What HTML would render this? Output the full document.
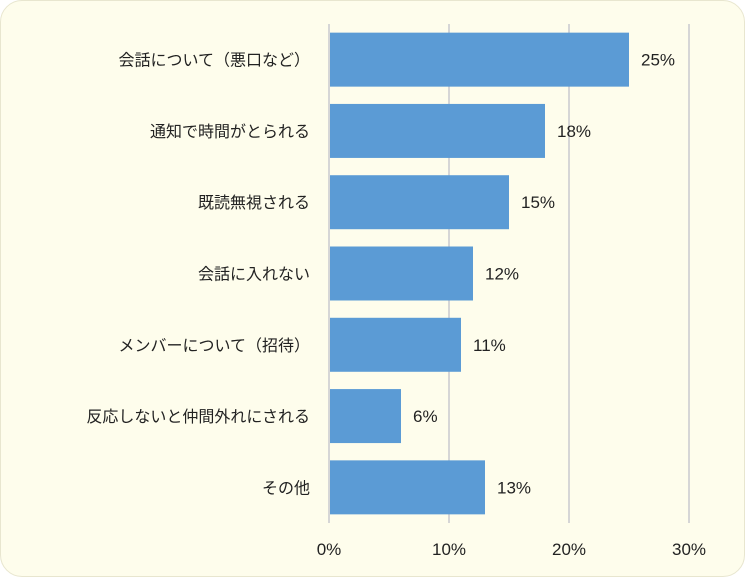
<!DOCTYPE html>
<html><head><meta charset="utf-8"><style>
html,body{margin:0;padding:0;background:#fff;}
#wrap{position:relative;width:743px;height:575px;border:1px solid #e8e6cf;border-radius:22px;background:#fefdec;overflow:hidden;}
svg{position:absolute;left:-1px;top:-1px;}
svg text{font-family:"Liberation Sans","Noto Sans CJK JP",sans-serif;fill:#222;}
</style></head><body>
<div id="wrap">
<svg id="chart" width="745" height="577"></svg>
</div>
<script>
const categories=["会話について（悪口など）","通知で時間がとられる","既読無視される","会話に入れない","メンバーについて（招待）","反応しないと仲間外れにされる","その他"];
const values=[25,18,15,12,11,6,13];
const ticks=[0,10,20,30];
const NS="http://www.w3.org/2000/svg";
const svgEl=document.getElementById('chart');
const x0=329,pxPer=12,plotTop=24,plotBottom=523;
const band=(plotBottom-plotTop)/categories.length,barH=54;
const xs=v=>x0+v*pxPer;
function mk(t,a){const e=document.createElementNS(NS,t);for(const k in a)e.setAttribute(k,a[k]);svgEl.appendChild(e);return e;}
ticks.forEach(t=>{
 const l=mk('line',{x1:xs(t),x2:xs(t),y1:plotTop,y2:plotBottom,stroke:'#d6d6d6','stroke-width':2});
 
 
 const tx=mk('text',{x:xs(t),y:555,'text-anchor':'middle','font-size':17});
 tx.textContent=t+'%';
 
 
});
categories.forEach((c,i)=>{
 const cy=plotTop+band*(i+0.5);
 const r=mk('rect',{x:xs(0)+1,y:cy-barH/2,width:xs(values[i])-xs(0)-1,height:barH,fill:'#5b9bd5'});
 
 
 const lb=mk('text',{x:xs(values[i])+12,y:cy+6,'font-size':17});
 lb.textContent=values[i]+'%';
 
 
 const cl=mk('text',{x:310,y:cy+6,'text-anchor':'end','font-size':16});
 cl.textContent=c;
 
 
});
</script>
</body></html>
